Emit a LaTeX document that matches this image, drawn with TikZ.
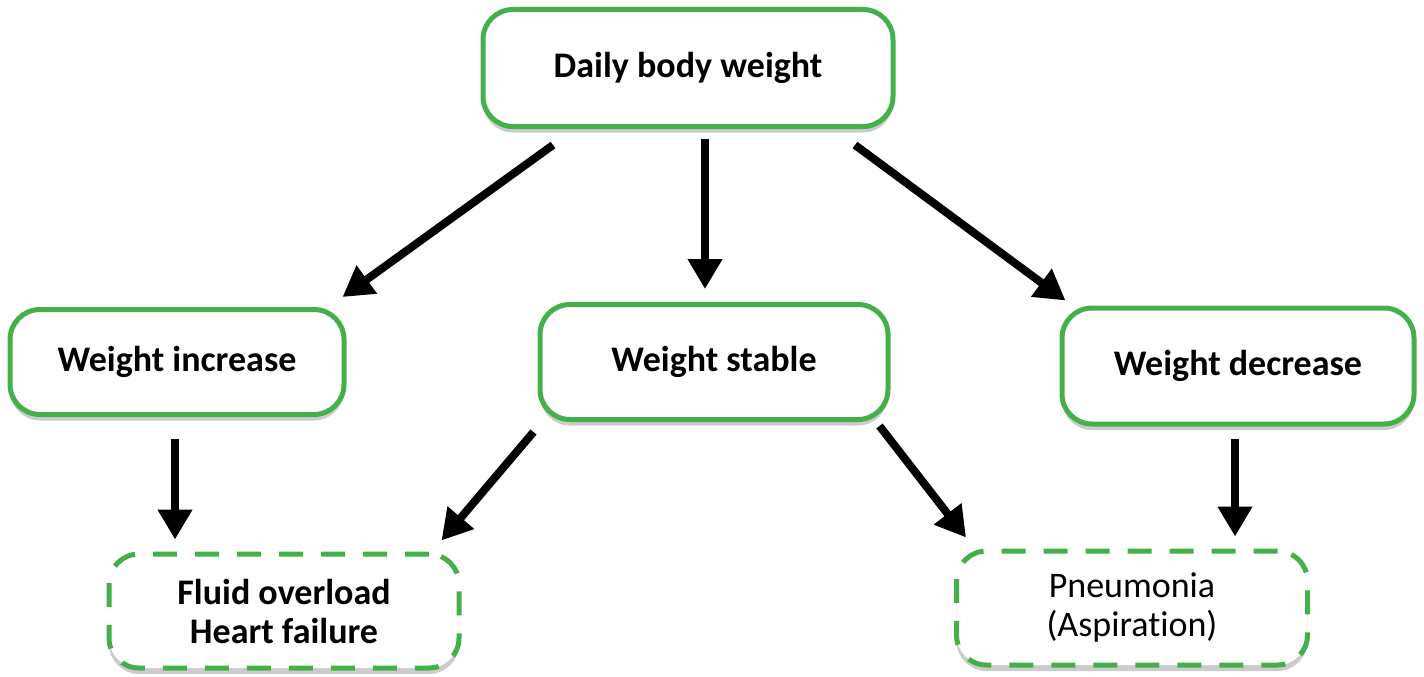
\documentclass[tikz,border=0pt]{standalone}
\usepackage{fontspec}
\setmainfont{Carlito}[Ligatures=NoCommon]
\usetikzlibrary{arrows.meta, shapes, positioning, shadows}
\definecolor{leafgreen}{RGB}{67,176,74}
\tikzset{weightbox/.style={rectangle, rounded corners=30pt, draw=leafgreen, line width=5pt, fill=white, align=center, font=\fontsize{36}{39}\selectfont\bfseries, drop shadow={shadow xshift=0pt, shadow yshift=-6pt, opacity=0.2, fill=black}},
riskbox/.style={weightbox, dash pattern=on 24pt off 18pt},
bigarrow/.style={-{Triangle[length=30pt, width=33pt]}, line width=8pt, black}}

\begin{document}
\begin{tikzpicture}[x=1pt, y=-1pt]
                \useasboundingbox (0,0) rectangle (1424,677);

                % Boxes
                \node[weightbox, minimum width=410pt, minimum height=117pt] (daily) at (688,68) {Daily body weight};
                \node[weightbox, minimum width=334pt, minimum height=105pt] (increase) at (177,362) {Weight increase};
                \node[weightbox, minimum width=348pt, minimum height=115pt] (stable) at (714,362) {Weight stable};
                \node[weightbox, minimum width=352pt, minimum height=116pt] (decrease) at (1238,366) {Weight decrease};
                \node[riskbox, minimum width=350pt, minimum height=114pt] (fluid) at (284,611) {Fluid overload\\Heart failure};
                \node[riskbox, minimum width=351pt, minimum height=114pt, font=\fontsize{36}{39}\selectfont] (pneumonia) at (1132,608) {Pneumonia\\(Aspiration)};

                % Arrows
                \draw[bigarrow] ([xshift=-135pt, yshift=-16pt]daily.south) -- ([xshift=-4pt, yshift=10pt]increase.north east);
                \draw[bigarrow] ([xshift=17pt, yshift=-10pt]daily.south) -- ([xshift=-9pt, yshift=13pt]stable.north);
                \draw[bigarrow] ([xshift=167pt, yshift=-16pt]daily.south) -- ([xshift=6pt, yshift=5pt]decrease.north west);
                \draw[bigarrow] ([xshift=-2pt, yshift=-22pt]increase.south) -- ([xshift=-109pt, yshift=12pt]fluid.north);
                \draw[bigarrow] ([xshift=-4pt, yshift=-10pt]stable.south west) -- ([xshift=-20pt, yshift=11pt]fluid.north east);
                \draw[bigarrow] ([xshift=-11pt, yshift=-4pt]stable.south east) -- ([xshift=12pt, yshift=11pt]pneumonia.north west);
                \draw[bigarrow] ([xshift=-3pt, yshift=-12pt]decrease.south) -- ([xshift=103pt, yshift=12pt]pneumonia.north);
            \end{tikzpicture}
\end{document}
